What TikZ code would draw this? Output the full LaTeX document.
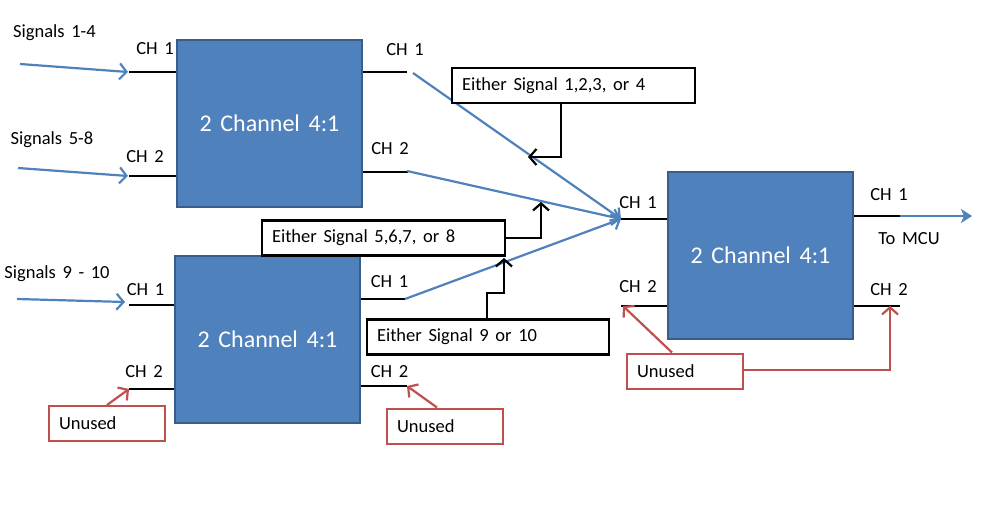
\documentclass[tikz,border=0pt]{standalone}
\usepackage{fontspec}
\setmainfont{Carlito}
\usetikzlibrary{arrows.meta}
\definecolor{boxblue}{HTML}{4F81BD}
\definecolor{boxedge}{HTML}{385D8A}
\definecolor{unred}{HTML}{C0504D}
\begin{document}
\begin{tikzpicture}[x=1pt,y=-1pt,
  widesp/.style={execute at begin node={\spaceskip=0.36em plus 0.1em\relax}},
  mux/.style={draw=boxedge, line width=2pt, fill=boxblue, text=white,
    font=\fontsize{24}{28}\selectfont, widesp,
    minimum width=185pt, minimum height=167pt, inner sep=0pt},
  lbl/.style={font=\fontsize{18.5}{22}\selectfont, widesp,
    inner sep=0pt, text height=12pt, text depth=0pt},
  stub/.style={line width=2.5pt, black},
  barb/.style={-{Straight Barb[length=7pt,width=16pt,line width=2.2pt]}},
  sig/.style={draw=boxblue, line width=2.2pt, barb},
  callout/.style={draw=black, line width=2.2pt, fill=white,
    font=\fontsize{18.5}{22}\selectfont, widesp,
    minimum height=35pt, inner xsep=10pt, inner ysep=0pt, align=left},
  callarrow/.style={draw=black, line width=2.2pt, barb},
  unusedbox/.style={draw=unred, line width=2pt, fill=white,
    font=\fontsize{18.5}{22}\selectfont, minimum height=35pt,
    text width=96pt, inner xsep=10pt, inner ysep=0pt, align=left},
  redarrow/.style={draw=unred, line width=2.2pt, barb}
]
\useasboundingbox (0,0) rectangle (986,514);

% mux boxes
\node[mux] (A) at (269.5,123.5) {2 Channel 4:1};
\node[mux] (B) at (267.5,339.5) {2 Channel 4:1};
\node[mux] (C) at (760.5,255.5) {2 Channel 4:1};

% stub end coordinates
\coordinate (aI1) at (129,72);
\coordinate (aI2) at (129,176);
\coordinate (aO1) at (407,72);
\coordinate (aO2) at (408,172);
\coordinate (bI1) at (129,305);
\coordinate (bI2) at (129,389);
\coordinate (bO1) at (405,299);
\coordinate (bO2) at (407,386);
\coordinate (cI1) at (621,219);
\coordinate (cI2) at (621,306);
\coordinate (cO1) at (900,216);
\coordinate (cO2) at (900,306);

\draw[stub] (aI1) -- (aI1 -| A.west);
\draw[stub] (aI2) -- (aI2 -| A.west);
\draw[stub] (aO1) -- (aO1 -| A.east);
\draw[stub] (aO2) -- (aO2 -| A.east);
\draw[stub] (bI1) -- (bI1 -| B.west);
\draw[stub] (bI2) -- (bI2 -| B.west);
\draw[stub] (bO1) -- (bO1 -| B.east);
\draw[stub] (bO2) -- (bO2 -| B.east);
\draw[stub] (cI1) -- (cI1 -| C.west);
\draw[stub] (cI2) -- (cI2 -| C.west);
\draw[stub] (cO1) -- (cO1 -| C.east);
\draw[stub] (cO2) -- (cO2 -| C.east);

% port labels
\node[lbl] (la1) at (155,48) {CH 1};
\node[lbl] (la2) at (145,156) {CH 2};
\node[lbl] (la3) at (405,49) {CH 1};
\node[lbl] (la4) at (390,148) {CH 2};
\node[lbl] (lb1) at (145.5,289) {CH 1};
\node[lbl] (lb2) at (144,371) {CH 2};
\node[lbl] (lb3) at (389.5,281) {CH 1};
\node[lbl] (lb4) at (389.5,371) {CH 2};
\node[lbl] (lc1) at (638,202) {CH 1};
\node[lbl] (lc2) at (638,286) {CH 2};
\node[lbl] (lc3) at (889,194) {CH 1};
\node[lbl] (lc4) at (889,289) {CH 2};
\node[lbl] (mcu) at (909,238) {To MCU};

% signal labels and input arrows
\node[lbl] (s14) at (54.5,31) {Signals 1-4};
\node[lbl] (s58) at (52,138) {Signals 5-8};
\node[lbl] (s910) at (57,272) {Signals 9 - 10};
\coordinate (s14a) at (20,64);
\coordinate (s58a) at (18,168);
\coordinate (s910a) at (17,299);
\draw[sig] (s14a) -- ([xshift=-1pt]aI1);
\draw[sig] (s58a) -- ([xshift=-1pt]aI2);
\draw[sig] (s910a) -- ([xshift=-4pt,yshift=3pt]bI1);

% converging arrows
\coordinate (q1) at (413,73);
\coordinate (q2) at (407,171);
\coordinate (q3) at (405,299);
\draw[sig] (q1) -- (cI1);
\draw[sig] (q2) -- (cI1);
\draw[sig] (q3) -- (cI1);

% output arrow
\draw[draw=boxblue, line width=2.2pt, -{Stealth[length=11pt,width=14pt,inset=3pt]}] (cO1) -- (972,216);

% callouts
\node[callout, minimum width=243pt, text width=223pt] (E1) at (573.5,85.5) {Either Signal 1,2,3, or 4};
\node[callout, minimum width=243pt, text width=223pt] (E2) at (383.5,238) {Either Signal 5,6,7, or 8};
\node[callout, minimum width=242pt, text width=222pt] (E3) at (488,337) {Either Signal 9 or 10};

\coordinate (j1) at (561,157);
\coordinate (t1) at (528,157);
\draw[callarrow] (E1.south -| j1) -- (j1) -- (t1);
\coordinate (t2) at (541,202);
\draw[callarrow] (E2.east) -| (t2);
\coordinate (j3) at (487,293);
\coordinate (t3) at (504,258);
\draw[callarrow] (E3.north -| j3) -- (j3) -| (t3);

% unused
\node[unusedbox] (U1) at (107,423.5) {Unused};
\node[unusedbox] (U2) at (445,426) {Unused};
\node[unusedbox] (U3) at (685,371) {Unused};
\draw[redarrow] (U1.north) -- (bI2);
\draw[redarrow] ([xshift=-8pt]U2.north) -- (bO2);
\draw[redarrow] ([xshift=-13pt]U3.north) -- ([xshift=2pt]cI2);
\coordinate (r3) at (890,370);
\draw[redarrow] (U3.east |- r3) -- (r3) -- ([xshift=-10pt]cO2);
\end{tikzpicture}
\end{document}
